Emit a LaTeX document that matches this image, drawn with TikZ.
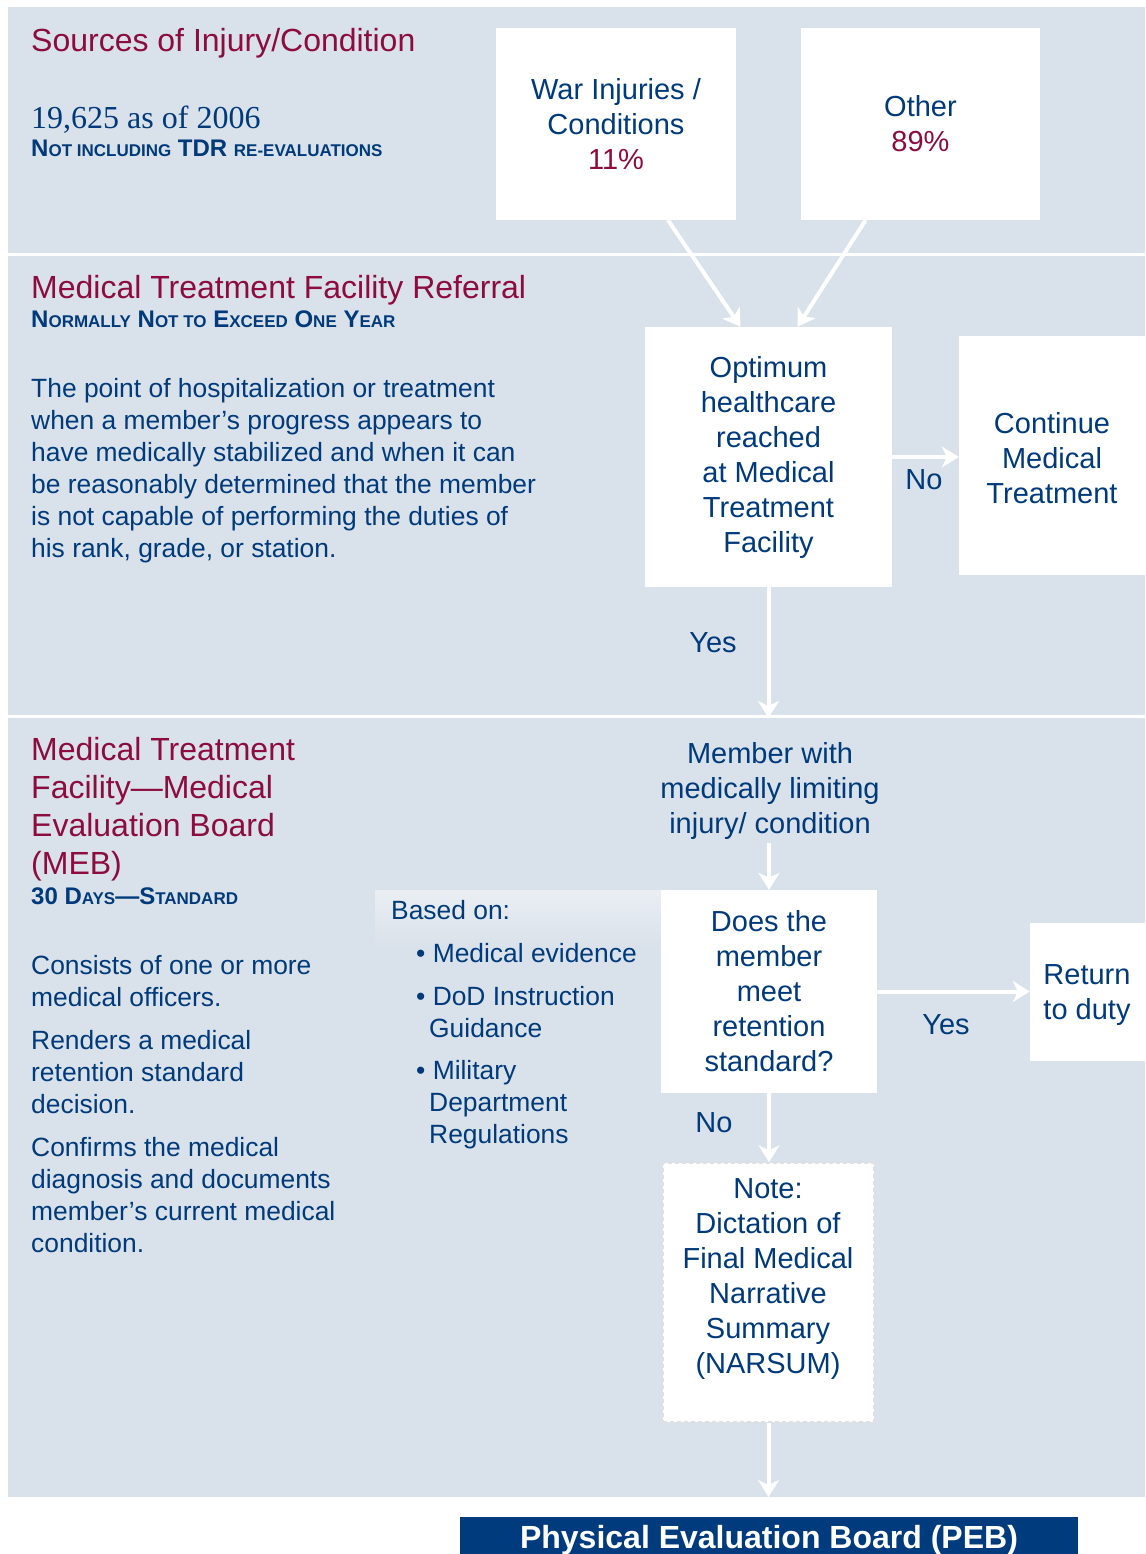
\documentclass[tikz,border=0pt]{standalone}
\usepackage{fontspec}
\setmainfont{Liberation Sans}
\newfontfamily\serifnum{Liberation Serif}
\usetikzlibrary{arrows.meta,positioning}

\definecolor{panelbg}{HTML}{D9E1EA}
\definecolor{inkblue}{HTML}{003A7B}
\definecolor{wine}{HTML}{8C0C3F}
\definecolor{pebblue}{HTML}{003C7D}

\newcommand\lowcaps[1]{{\fontsize{17}{17}\selectfont #1}}

\begin{document}
\begin{tikzpicture}[x=1pt,y=-1pt,
    whitebox/.style={fill=white,inner sep=0pt},
    boxtext/.style={text=inkblue,align=center,font=\fontsize{29}{35}\selectfont},
    head/.style={text=wine,anchor=north west,inner sep=0pt,align=left,font=\fontsize{32}{38}\selectfont},
    sub/.style={text=inkblue,anchor=base west,inner sep=0pt,font=\bfseries\fontsize{24}{24}\selectfont},
    body/.style={text=inkblue,anchor=north west,inner sep=0pt,align=left,font=\fontsize{26.4}{32}\selectfont},
    answer/.style={text=inkblue,inner sep=0pt,font=\fontsize{29}{35}\selectfont},
    flow/.style={draw=white,line width=4pt,-{Stealth[length=17pt,width=21pt,inset=5pt]}},
]

    \useasboundingbox (0,0) rectangle (1145,1554);
    \fill[white] (0,0) rectangle (1145,1554);

    % panels
    \fill[panelbg] (8,7) rectangle (1145,253);
    \fill[panelbg] (8,256) rectangle (1145,715);
    \fill[panelbg] (8,718) rectangle (1145,1497);
    \shade[top color=white!45!panelbg,bottom color=panelbg] (375,890) rectangle (661,948);

    % boxes
    \node[whitebox,boxtext,minimum width=240pt,minimum height=192pt] (war) at (616,124)
        {War Injuries /\\Conditions\\\textcolor{wine}{11\%}};
    \node[whitebox,boxtext,minimum width=239pt,minimum height=192pt] (other) at (920.5,124)
        {Other\\\textcolor{wine}{89\%}};
    \node[whitebox,boxtext,minimum width=247pt,minimum height=260pt] (optimum) at (768.5,457)
        {Optimum\\healthcare\\reached\\at Medical\\Treatment\\Facility};
    \node[whitebox,minimum width=186pt,minimum height=239pt] (cont) at (1052,455.5) {};
    \node[boxtext] (conttext) at (1052,458) {Continue\\Medical\\Treatment};
    \node[boxtext] (member) at (770,791) {Member with\\medically limiting\\injury/ condition};
    \node[whitebox,boxtext,minimum width=216pt,minimum height=203pt] (does) at (769,991.5)
        {Does the\\member\\meet\\retention\\standard?};
    \node[whitebox,minimum width=115pt,minimum height=138pt] (ret) at (1087.5,992) {};
    \node[boxtext] (rettext) at (1087,995) {Return\\to duty};
    \node[whitebox,draw=black!12,dash pattern=on 4pt off 3pt,line width=1.5pt,
        minimum width=211pt,minimum height=259pt] (note) at (768.5,1292.5) {};
    \node[boxtext] (notetext) at (768,1279)
        {Note:\\Dictation of\\Final Medical\\Narrative\\Summary\\(NARSUM)};
    \node[fill=pebblue,text=white,inner sep=0pt,minimum width=618pt,minimum height=46pt,
        font=\bfseries\fontsize{32}{32}\selectfont] (peb) at (769,1540)
        {Physical Evaluation Board (PEB)};

    % answers
    \node[answer] (nocont) at (924,480) {No};
    \node[answer] (yesmeb) at (713,643) {Yes};
    \node[answer] (yesret) at (946,1025) {Yes};
    \node[answer] (nonote) at (714,1123) {No};

    % connectors
    \coordinate (mebtop) at (768.5,718);
    \coordinate (pebtop) at (768.5,1497);
    \draw[flow] ([xshift=52pt]war.south) -- ([xshift=-28pt]optimum.north);
    \draw[flow] ([xshift=-55pt]other.south) -- ([xshift=29pt]optimum.north);
    \draw[flow] (optimum.east) -- (optimum.east -| cont.west);
    \draw[flow] (optimum.south) -- (mebtop);
    \draw[flow] (does.north |- member.south) -- (does.north);
    \draw[flow] (does.east) -- (does.east -| ret.west);
    \draw[flow] (does.south) -- (does.south |- note.north);
    \draw[flow] (note.south) -- (pebtop);

    % left column texts
    \node[head,anchor=base west] (srchead) at (31,52) {Sources of Injury/Condition};
    \node[text=inkblue,anchor=base west,inner sep=0pt,font=\serifnum\fontsize{32}{32}\selectfont]
        (count) at (31,129) {19,625 as of 2006};
    \node[sub] (countnote) at (31,157) {N\lowcaps{OT INCLUDING} TDR \lowcaps{RE-EVALUATIONS}};

    \node[head,anchor=base west] (mtfhead) at (31,298) {Medical Treatment Facility Referral};
    \node[sub] (mtfnote) at (31,327)
        {N\lowcaps{ORMALLY} N\lowcaps{OT TO} E\lowcaps{XCEED} O\lowcaps{NE} Y\lowcaps{EAR}};
    \node[body] (mtftext) at (31,378)
        {The point of hospitalization or treatment\\when a member’s progress appears to\\have medically stabilized and when it can\\be reasonably determined that the member\\is not capable of performing the duties of\\his rank, grade, or station.};

    \node[head] (mebhead) at (31,737)
        {Medical Treatment\\Facility—Medical\\Evaluation Board\\(MEB)};
    \node[sub] (mebnote) at (31,904) {30 D\lowcaps{AYS}—S\lowcaps{TANDARD}};
    \node[body] (consists) at (31,955) {Consists of one or more\\medical officers.};
    \node[body] (renders) at (31,1030) {Renders a medical\\retention standard\\decision.};
    \node[body] (confirms) at (31,1137)
        {Confirms the medical\\diagnosis and documents\\member’s current medical\\condition.};

    % based on list
    \node[body] (basedon) at (391,900) {Based on:};
    \node[body] (evidence) at (416,943) {• Medical evidence};
    \node[body] (dodi) at (416,986) {• DoD Instruction\\\hspace*{13pt}Guidance};
    \node[body] (regs) at (416,1060) {• Military\\\hspace*{13pt}Department\\\hspace*{13pt}Regulations};

\end{tikzpicture}
\end{document}
